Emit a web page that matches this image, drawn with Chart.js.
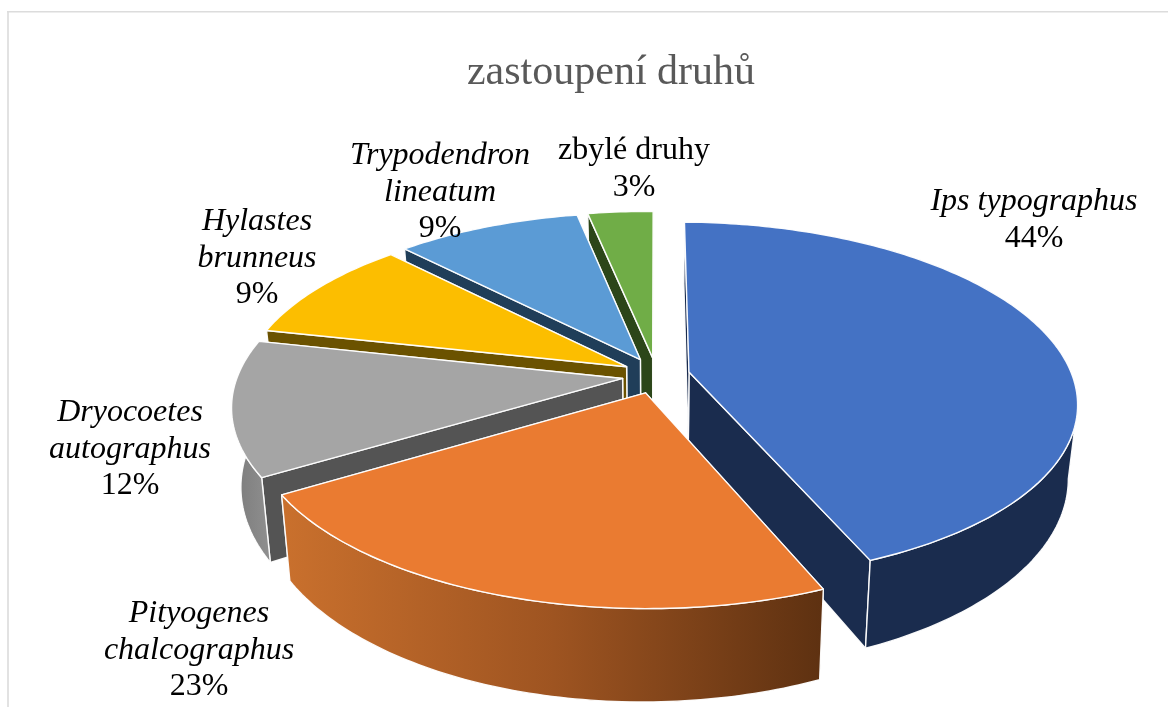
<!DOCTYPE html>
<html><head><meta charset="utf-8">
<style>html,body{margin:0;padding:0;background:#fff}canvas{display:block}</style>
<script src="https://cdn.jsdelivr.net/npm/chart.js@4/dist/chart.umd.min.js"></script>
</head><body>
<canvas id="c" width="1168" height="707"></canvas>
<script>
const titleText = "zastoupení druhů";
const categories = ["Ips typographus","Pityogenes chalcographus","Dryocoetes autographus","Hylastes brunneus","Trypodendron lineatum","zbylé druhy"];
const values = [43.6,22.6,12.1,9.4,9.1,3.2];
const topColors = ["#4472C4","#EA7B31","#A5A5A5","#FCBE00","#5B9BD5","#70AD47"];
const radialWallColors = ["#1A2C4E","#5E3111","#545454","#6B5200","#203E59","#2C4619"];
const labelLines = [["Ips typographus"],["Pityogenes","chalcographus"],["Dryocoetes","autographus"],["Hylastes","brunneus"],["Trypodendron","lineatum"],["zbylé druhy"]];
const labelItalic = [true,true,true,true,true,false];
const labelAnchors = [[1034,202],[199,614],[130,413],[257,222],[440,156],[634,151]];

const view = {cx:656, cy:375.5, rx:384, ry:175, k:0.16, h:74, ex:0.088, ey:0.103};
function project(mid, th, r, z){
  const x = r*Math.sin(th)+Math.sin(mid)*view.ex;
  const y = -r*Math.cos(th)-Math.cos(mid)*view.ey;
  const w = 1/(1-view.k*y);
  return [view.cx+view.rx*x*w*(1-0.022*z),
          view.cy+view.ry*y*w+2*x+z*view.h*Math.pow(w,1.2)*(1-0.03*x)];
}
function poly(ctx, pts, fill){
  ctx.beginPath();
  pts.forEach((p,i)=> i?ctx.lineTo(p[0],p[1]):ctx.moveTo(p[0],p[1]));
  ctx.closePath();
  ctx.fillStyle = fill; ctx.fill();
  ctx.strokeStyle = "rgba(255,255,255,0.95)"; ctx.lineWidth = 1.4; ctx.lineJoin = "round"; ctx.stroke();
}
function rimPoints(mid, a, b, z){
  const n = Math.max(2, Math.ceil((b-a)/(Math.PI/180)));
  const out = [];
  for(let i=0;i<=n;i++) out.push(project(mid, a+(b-a)*i/n, 1, z));
  return out;
}
const frontFrom = 100*Math.PI/180, frontTo = 275*Math.PI/180;
const pie3d = {
  id:"pie3d",
  beforeDraw(chart){
    const c = chart.ctx;
    c.save();
    c.fillStyle = "#E2E2E2"; c.fillRect(7,12,2,695);
    c.fillStyle = "#DCDCDC"; c.fillRect(7,11,1161,1.5);
    c.restore();
  },
  beforeDatasetDraw(chart, args){
    const c = chart.ctx, arcs = args.meta.data;
    const order = [5,4,3,2,0,1];
    c.save();
    order.forEach(i=>{
      const el = arcs[i];
      const a = el.startAngle+Math.PI/2, b = el.endAngle+Math.PI/2, mid = (a+b)/2;
      const apexT = project(mid,a,0,0), apexB = project(mid,a,0,1);
      const wall = radialWallColors[i];
      poly(c,[apexT,project(mid,b,1,0),project(mid,b,1,1),apexB],wall);
      poly(c,[apexT,project(mid,a,1,0),project(mid,a,1,1),apexB],wall);
      const fa = Math.max(a,frontFrom), fb = Math.min(b,frontTo);
      if(fb>fa){
        let outer = wall;
        if(i===1){
          const g = c.createLinearGradient(285,0,822,0);
          g.addColorStop(0,"#C9702D"); g.addColorStop(0.5,"#9E5421"); g.addColorStop(1,"#5E3111");
          outer = g;
        } else if(i===2){
          const g = c.createLinearGradient(235,0,275,0);
          g.addColorStop(0,"#7C7C7C"); g.addColorStop(1,"#929292");
          outer = g;
        }
        poly(c, rimPoints(mid,fa,fb,0).concat(rimPoints(mid,fa,fb,1).reverse()), outer);
      }
      poly(c, [apexT].concat(rimPoints(mid,a,b,0)), el.options.backgroundColor);
    });
    c.restore();
    return false;
  },
  afterDraw(chart){
    const c = chart.ctx, total = values.reduce((s,v)=>s+v,0);
    c.save();
    c.fillStyle = "#000"; c.textAlign = "center"; c.textBaseline = "middle";
    labelLines.forEach((lines,i)=>{
      let [x,y] = labelAnchors[i];
      lines.forEach(t=>{
        c.font = (labelItalic[i]?"italic ":"")+"32px 'Liberation Serif'";
        c.fillText(t,x,y); y+=36.3;
      });
      c.font = "32px 'Liberation Serif'";
      c.fillText(Math.round(values[i]/total*100)+"%",x,y);
    });
    c.restore();
  }
};
new Chart(document.getElementById("c"),{
  type:"pie",
  data:{labels:categories,datasets:[{data:values,backgroundColor:topColors,borderWidth:0}]},
  options:{
    responsive:false, animation:false,
    layout:{padding:{left:54,top:0}},
    plugins:{
      legend:{display:false}, tooltip:{enabled:false},
      title:{display:true,text:titleText,color:"#595959",
        font:{family:"'Liberation Serif'",size:42,weight:"normal"},
        padding:{top:48,bottom:10}}
    }
  },
  plugins:[pie3d]
});
</script>
</body></html>
